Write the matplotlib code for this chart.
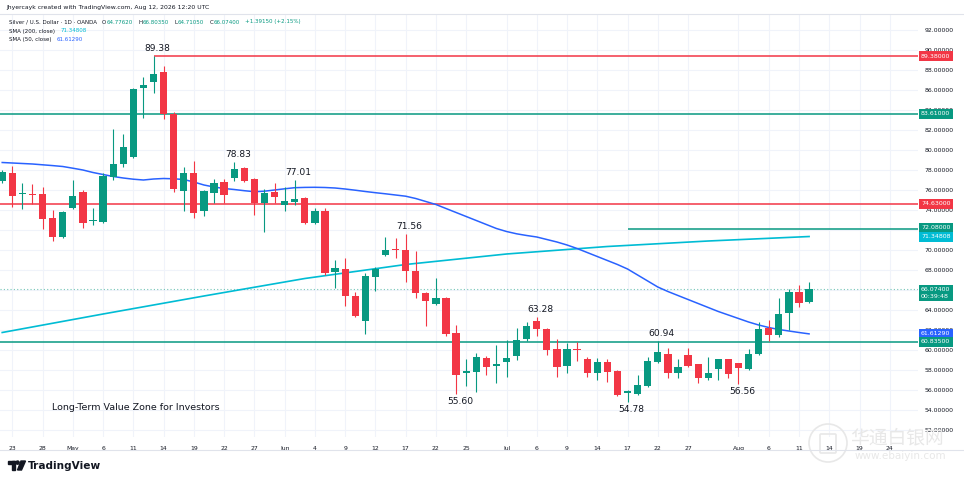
import matplotlib
matplotlib.use('Agg')
import matplotlib.pyplot as plt
from matplotlib.patches import Rectangle, Circle, Polygon, FancyBboxPatch
from matplotlib.transforms import IdentityTransform, blended_transform_factory
import pandas as pd

W, H = 964, 482

# --- data (Silver / USD, daily, OANDA) ---
dates = pd.bdate_range('2026-04-22', '2026-08-12')

opens = [76.85, 77.67, 75.55, 75.60, 75.57, 73.23, 71.30, 74.23, 75.77, 72.85,
         72.77, 77.33, 78.60, 79.33, 86.23, 86.83, 87.77, 83.57, 75.93, 77.73,
         73.93, 75.73, 76.77, 77.17, 78.23, 77.10, 74.67, 75.83, 74.50, 74.83,
         75.23, 72.73, 73.90, 67.83, 68.07, 65.40, 62.93, 67.33, 69.50, 70.10,
         70.00, 67.93, 65.73, 64.60, 65.23, 61.67, 57.67, 57.83, 59.17, 58.40,
         58.83, 59.40, 61.07, 62.93, 62.10, 60.07, 58.40, 60.05, 59.07, 57.67,
         58.83, 57.93, 55.73, 55.60, 56.40, 58.83, 59.60, 57.67, 59.50, 58.57,
         57.17, 58.07, 59.07, 58.67, 58.07, 59.60, 62.17, 61.50, 63.67, 65.77,
         64.7762]
highs = [78.00, 78.43, 76.73, 76.57, 76.27, 74.00, 73.90, 77.00, 76.00, 74.17,
         77.67, 82.10, 81.60, 86.20, 87.33, 89.38, 88.43, 83.83, 78.27, 78.90,
         76.00, 77.07, 77.07, 78.83, 78.33, 77.20, 76.07, 76.67, 76.33, 77.01,
         75.33, 74.17, 74.17, 69.00, 69.17, 65.83, 67.67, 68.33, 71.33, 71.17,
         71.56, 69.90, 65.80, 67.17, 65.30, 62.50, 59.07, 59.67, 59.40, 60.50,
         61.00, 62.17, 62.83, 63.28, 62.20, 61.07, 60.67, 60.83, 59.30, 59.17,
         59.07, 58.00, 56.00, 57.50, 59.27, 60.94, 60.17, 59.07, 60.17, 58.60,
         59.27, 59.10, 59.10, 58.70, 60.07, 62.83, 63.00, 65.17, 66.07, 66.50,
         66.8035]
lows = [76.70, 74.33, 74.07, 74.60, 72.10, 70.90, 71.20, 74.10, 72.20, 72.50,
        72.67, 77.00, 78.33, 79.20, 83.17, 85.67, 83.13, 75.83, 73.93, 73.17,
        73.40, 74.67, 74.67, 76.93, 76.83, 73.50, 71.83, 74.67, 73.93, 74.50,
        72.60, 72.60, 67.50, 66.17, 64.40, 63.30, 61.60, 65.93, 69.40, 69.17,
        66.83, 65.17, 62.40, 64.50, 61.40, 55.60, 56.40, 55.83, 57.50, 56.73,
        57.33, 59.00, 60.90, 61.40, 59.50, 57.33, 57.73, 58.90, 57.33, 57.00,
        56.83, 55.40, 54.78, 55.50, 56.27, 58.70, 57.17, 57.17, 58.27, 56.73,
        57.00, 57.00, 57.17, 56.56, 58.00, 59.50, 60.93, 61.33, 62.00, 64.33,
        64.7105]
closes = [77.80, 75.43, 75.67, 75.50, 73.10, 71.33, 73.77, 75.40, 72.73, 72.95,
          77.40, 78.57, 80.33, 86.13, 86.53, 87.57, 83.57, 76.07, 77.73, 73.67,
          75.90, 76.67, 75.50, 78.10, 76.93, 74.67, 75.67, 75.27, 74.90, 75.10,
          72.73, 73.90, 67.73, 68.23, 65.40, 63.43, 67.40, 68.07, 70.00, 70.03,
          67.93, 65.73, 64.93, 65.17, 61.60, 57.50, 57.93, 59.27, 58.33, 58.60,
          59.17, 61.00, 62.43, 62.10, 60.00, 58.33, 60.07, 59.97, 57.73, 58.83,
          57.83, 55.50, 55.93, 56.50, 58.93, 59.83, 57.73, 58.27, 58.40, 57.17,
          57.67, 59.07, 57.60, 58.17, 59.60, 62.07, 61.50, 63.60, 65.77, 64.68,
          66.074]

# SMA(50) read per bar
sma50 = [78.75, 78.70, 78.65, 78.60, 78.52, 78.44, 78.35, 78.18, 78.00, 77.75,
         77.55, 77.35, 77.20, 77.08, 77.00, 77.10, 77.15, 77.12, 77.05, 76.80,
         76.50, 76.30, 76.15, 76.05, 75.93, 75.83, 75.88, 76.00, 76.12, 76.23,
         76.26, 76.27, 76.25, 76.20, 76.10, 75.98, 75.85, 75.73, 75.62, 75.50,
         75.38, 75.15, 74.85, 74.55, 74.15, 73.75, 73.35, 72.95, 72.55, 72.15,
         71.85, 71.62, 71.45, 71.30, 71.05, 70.80, 70.50, 70.15, 69.75, 69.35,
         68.95, 68.55, 68.10, 67.50, 66.90, 66.30, 65.85, 65.45, 65.05, 64.65,
         64.25, 63.85, 63.50, 63.15, 62.80, 62.50, 62.25, 62.05, 61.90, 61.75,
         61.6129]

# SMA(200) read at a few dates (nearly straight)
sma200_dates = ['2026-04-22', '2026-05-06', '2026-05-20', '2026-06-03', '2026-06-17',
                '2026-07-01', '2026-07-15', '2026-07-29', '2026-08-12']
sma200_vals = [61.75, 63.60, 65.40, 67.15, 68.55, 69.60, 70.35, 70.90, 71.34808]

# horizontal levels: value, colour key, start date (None = full width)
level_vals = [89.38, 83.61, 74.63, 72.08, 60.835]
level_kinds = ['red', 'green', 'red', 'green', 'green']
level_starts = ['2026-05-13', None, None, '2026-07-17', None]

# swing labels
swing_dates = ['2026-05-13', '2026-05-25', '2026-06-02', '2026-06-17', '2026-07-06',
               '2026-07-22', '2026-06-24', '2026-07-17', '2026-08-03']
swing_vals = [89.38, 78.83, 77.01, 71.56, 63.28, 60.94, 55.60, 54.78, 56.56]
swing_kind = ['hi', 'hi', 'hi', 'hi', 'hi', 'hi', 'lo', 'lo', 'lo']

tick_dates = ['2026-04-23', '2026-04-28', '2026-05-01', '2026-05-06', '2026-05-11',
              '2026-05-14', '2026-05-19', '2026-05-22', '2026-05-27', '2026-06-01',
              '2026-06-04', '2026-06-09', '2026-06-12', '2026-06-17', '2026-06-22',
              '2026-06-25', '2026-07-01', '2026-07-06', '2026-07-09', '2026-07-14',
              '2026-07-17', '2026-07-22', '2026-07-27', '2026-08-03', '2026-08-06',
              '2026-08-11', '2026-08-14', '2026-08-19', '2026-08-24']
tick_labels = ['23', '28', 'May', '6', '11', '14', '19', '22', '27', 'Jun', '4', '9',
               '12', '17', '22', '25', 'Jul', '6', '9', '14', '17', '22', '27', 'Aug',
               '6', '11', '14', '19', '24']

price_ticks = list(range(52, 93, 2))

GREEN = '#089981'
RED = '#f23645'
BLUE = '#2962ff'
CYAN = '#00bcd4'
TXT = '#131722'
GRID = '#f0f3fa'
COLORS = {'red': RED, 'green': GREEN}

# trading-day position lookup (extends past last bar for future ticks)
cal = pd.bdate_range('2026-04-22', '2026-09-30')
pos = {d.strftime('%Y-%m-%d'): i for i, d in enumerate(cal)}


def px(x, y):
    return x, H - y


fig = plt.figure(figsize=(W / 100, H / 100), dpi=100)
fig.patch.set_facecolor('white')
ax = fig.add_axes([0, 1 - 437 / H, 918 / W, (437 - 14) / H])
ax.set_facecolor('white')
ax.set_xlim(-0.22, 90.8)
ax.set_ylim(51.3, 93.6)

# grid
ax.set_xticks([pos[d] for d in tick_dates])
ax.set_xticklabels(tick_labels)
ax.set_yticks(price_ticks)
ax.set_yticklabels(['%.5f' % v for v in price_ticks])
ax.yaxis.tick_right()
ax.grid(True, color=GRID, lw=0.8, zorder=0)
ax.tick_params(axis='both', length=0, labelsize=4.4, labelcolor=TXT)
ax.tick_params(axis='x', pad=6.5)
ax.tick_params(axis='y', pad=4.5)
for s in ax.spines.values():
    s.set_visible(False)
ax.set_axisbelow(True)

# key levels
for v, k, st in zip(level_vals, level_kinds, level_starts):
    x0 = pos[st] if st else -1
    ax.plot([x0, 200], [v, v], color=COLORS[k], lw=1.1, zorder=2, solid_capstyle='butt')

# current price dotted line
ax.axhline(closes[-1], color=GREEN, lw=0.8, ls=(0, (1, 2)), alpha=0.55, zorder=1)

# candles
xs = [pos[d.strftime('%Y-%m-%d')] for d in dates]

# moving averages
ax.plot([pos[d] for d in sma200_dates], sma200_vals, color=CYAN, lw=1.2, zorder=3)
ax.plot(xs, sma50, color=BLUE, lw=1.1, zorder=3)

for x, o, h, l, c in zip(xs, opens, highs, lows, closes):
    col = GREEN if c >= o else RED
    ax.vlines(x, l, h, color=col, lw=0.8, zorder=4)
    ax.bar(x, max(abs(c - o), 0.08), bottom=min(o, c), width=0.72,
           color=col, edgecolor='none', zorder=5)

# swing labels
for d, v, k in zip(swing_dates, swing_vals, swing_kind):
    if k == 'hi':
        ax.annotate('%.2f' % v, (pos[d], v), xytext=(4, 3), textcoords='offset pixels',
                    ha='center', va='bottom', fontsize=6.6, color=TXT, zorder=6)
    else:
        ax.annotate('%.2f' % v, (pos[d], v), xytext=(4, -3), textcoords='offset pixels',
                    ha='center', va='top', fontsize=6.6, color=TXT, zorder=6)

ax.text(4.95, 54.2, 'Long-Term Value Zone for Investors', fontsize=6.8, color=TXT,
        ha='left', va='center', zorder=6)

# price-scale tags
tr = blended_transform_factory(ax.transAxes, ax.transData)
tags = [(89.38, '89.38000', RED), (83.61, '83.61000', GREEN), (74.63, '74.63000', RED),
        (72.20, '72.08000', GREEN), (71.30, '71.34808', CYAN),
        (65.70, '66.07400\n00:39:48', GREEN), (61.65, '61.61290', BLUE),
        (60.80, '60.83500', GREEN)]
for y, s, col in tags:
    ax.text(1.0033, y, s, transform=tr, fontsize=4.5, color='white', ha='left',
            va='center', linespacing=1.5, clip_on=False, zorder=10,
            bbox=dict(boxstyle='square,pad=0.38', fc=col, ec='none'))

# frame lines
fig.add_artist(plt.Line2D([0, 1], [1 - 14 / H, 1 - 14 / H], color='#e0e3eb', lw=0.8))
fig.add_artist(plt.Line2D([0, 1], [1 - 450 / H, 1 - 450 / H], color='#e0e3eb', lw=0.8))

# header
fig.text(6 / W, 1 - 7 / H, 'Jhyercayk created with TradingView.com, Aug 12, 2026 12:20 UTC',
         fontsize=4.4, color=TXT, va='center', ha='left')

renderer = fig.canvas.get_renderer()


def pieces(x, y, parts, size=4.0, gap=4.5):
    for s, col in parts:
        if s.startswith(' '):
            x += gap
            s = s.strip()
        t = fig.text(x / W, 1 - y / H, s, fontsize=size, color=col, va='center', ha='left')
        x += t.get_window_extent(renderer=renderer).width + 0.6


pieces(9, 22, [('Silver / U.S. Dollar · 1D · OANDA', TXT), (' O', TXT), ('64.77620', GREEN),
               (' H', TXT), ('66.80350', GREEN), (' L', TXT), ('64.71050', GREEN),
               (' C', TXT), ('66.07400', GREEN), (' +1.39150 (+2.15%)', GREEN)])
pieces(9, 31, [('SMA (200, close)', TXT), (' 71.34808', CYAN)])
pieces(9, 39.5, [('SMA (50, close)', TXT), (' 61.61290', BLUE)])

# TradingView logo
idt = IdentityTransform()
fig.add_artist(Rectangle(px(8, 464), 7, 3, transform=idt, color=TXT))
fig.add_artist(Rectangle(px(12, 470), 3, 9, transform=idt, color=TXT))
fig.add_artist(Circle(px(17.6, 462.6), 1.6, transform=idt, color=TXT))
fig.add_artist(Polygon([px(21, 461), px(25.5, 461), px(21.5, 470), px(17.5, 470)],
                       closed=True, transform=idt, color=TXT))
fig.text(28 / W, 1 - 466 / H, 'TradingView', fontsize=7.6, fontweight='semibold',
         color=TXT, va='center', ha='left')

# watermark
wm = '#e8e8e8'
fig.add_artist(Circle(px(828, 443), 19, transform=idt, fill=False, ec=wm, lw=1.2))
fig.add_artist(FancyBboxPatch(px(821, 452), 14, 17, boxstyle='round,pad=1',
                              transform=idt, fill=False, ec=wm, lw=1.2))
fig.text(897 / W, 1 - 438 / H, '华通白银网', fontsize=13.5, color=wm, ha='center',
         va='center', family=['Noto Sans CJK SC', 'DejaVu Sans'])
fig.text(900 / W, 1 - 456 / H, 'www.ebaiyin.com', fontsize=7.5, color=wm, ha='center',
         va='center')

fig.savefig('out.png', dpi=100, facecolor='white')
